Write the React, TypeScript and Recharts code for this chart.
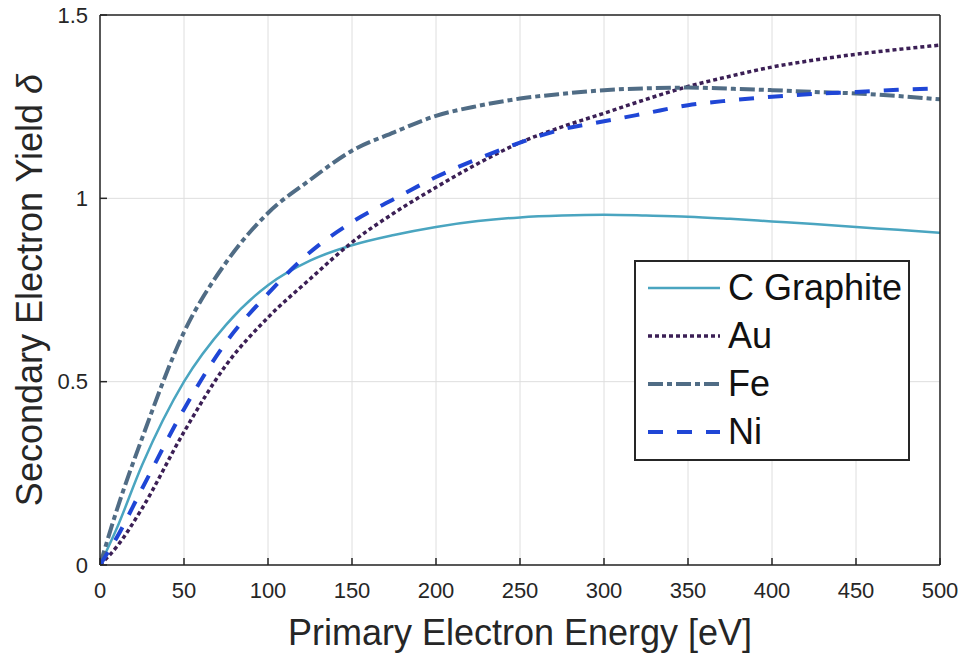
import { CartesianGrid, Label, Legend, Line, LineChart, XAxis, YAxis } from "recharts";

const energy = [0, 10, 25, 50, 75, 100, 125, 150, 175, 200, 225, 250, 275, 300, 325, 350, 375, 400, 425, 450, 475, 500];
const graphite = [0, 0.1, 0.272, 0.5, 0.655, 0.763, 0.83, 0.872, 0.9, 0.922, 0.938, 0.948, 0.953, 0.955, 0.953, 0.95, 0.944, 0.937, 0.93, 0.922, 0.914, 0.906];
const au = [0, 0.05, 0.154, 0.363, 0.545, 0.675, 0.78, 0.88, 0.96, 1.03, 1.095, 1.152, 1.195, 1.232, 1.27, 1.305, 1.333, 1.358, 1.377, 1.393, 1.406, 1.418];
const fe = [0, 0.15, 0.345, 0.635, 0.825, 0.96, 1.05, 1.13, 1.18, 1.225, 1.252, 1.272, 1.285, 1.295, 1.3, 1.302, 1.299, 1.295, 1.29, 1.286, 1.279, 1.27];
const ni = [0, 0.075, 0.208, 0.425, 0.607, 0.74, 0.853, 0.935, 0.998, 1.058, 1.108, 1.152, 1.188, 1.21, 1.232, 1.254, 1.267, 1.277, 1.285, 1.29, 1.296, 1.3];

const xTicks = [0, 50, 100, 150, 200, 250, 300, 350, 400, 450, 500];
const yTicks = [0, 0.5, 1, 1.5];

const FONT = "'Liberation Sans', Arial, Helvetica, sans-serif";
const AXIS = "#262626";

const series = [
  { key: "graphite", name: "C Graphite", color: "#4aa5c0", width: 2.5, dash: undefined },
  { key: "au", name: "Au", color: "#3b1f55", width: 3.5, dash: "4 3" },
  { key: "fe", name: "Fe", color: "#506c85", width: 4, dash: "15 4 5 4" },
  { key: "ni", name: "Ni", color: "#1f46d6", width: 4, dash: "15 14" },
];

const data = energy.map((e, i) => ({
  e,
  graphite: graphite[i],
  au: au[i],
  fe: fe[i],
  ni: ni[i],
}));

const LegendBox = () => (
  <div
    style={{
      boxSizing: "border-box",
      width: 276,
      height: 201,
      border: `2px solid ${AXIS}`,
      background: "#fff",
      paddingTop: 2,
      paddingLeft: 12,
      fontFamily: FONT,
    }}
  >
    {series.map((s) => (
      <div key={s.key} style={{ display: "flex", alignItems: "center", height: 48 }}>
        <svg width={72} height={10} style={{ display: "block" }}>
          <line x1={0} y1={5} x2={72} y2={5} stroke={s.color} strokeWidth={s.width} strokeDasharray={s.dash} />
        </svg>
        <span style={{ marginLeft: 8, fontSize: 36, color: "#111", lineHeight: "48px" }}>{s.name}</span>
      </div>
    ))}
  </div>
);

const YLabel = (props: any) => {
  const { x, y, height } = props.viewBox;
  const cx = x + 29;
  const cy = y + height / 2;
  return (
    <text
      x={cx}
      y={cy}
      transform={`rotate(-90 ${cx} ${cy})`}
      textAnchor="middle"
      dominantBaseline="central"
      fontSize={36}
      fill={AXIS}
      fontFamily={FONT}
    >
      Secondary Electron Yield <tspan fontStyle="italic">δ</tspan>
    </text>
  );
};

export default function App() {
  return (
    <div style={{ position: "absolute", left: 0, top: 0, background: "#fff" }}>
      <LineChart width={964} height={656} data={data} margin={{ top: 15, right: 24, bottom: 0, left: 0 }}>
        <CartesianGrid stroke="#dedede" strokeWidth={1} />
        <XAxis
          dataKey="e"
          type="number"
          domain={[0, 500]}
          ticks={xTicks}
          allowDataOverflow
          height={91}
          tickSize={-7}
          tickMargin={24}
          tickLine={{ stroke: AXIS, strokeWidth: 1.5 }}
          axisLine={{ stroke: AXIS, strokeWidth: 1.5 }}
          tick={{ fontSize: 22, fill: AXIS, fontFamily: FONT }}
        >
          <Label
            value="Primary Electron Energy [eV]"
            position="insideBottom"
            offset={11}
            style={{ fontSize: 36, fill: AXIS, fontFamily: FONT }}
          />
        </XAxis>
        <XAxis
          xAxisId="top"
          orientation="top"
          mirror
          type="number"
          domain={[0, 500]}
          ticks={xTicks}
          allowDataOverflow
          tick={false}
          tickSize={7}
          tickLine={{ stroke: AXIS, strokeWidth: 1.5 }}
          axisLine={{ stroke: AXIS, strokeWidth: 1.5 }}
        />
        <YAxis
          type="number"
          domain={[0, 1.5]}
          ticks={yTicks}
          allowDataOverflow
          width={100}
          tickSize={-7}
          tickMargin={19}
          tickLine={{ stroke: AXIS, strokeWidth: 1.5 }}
          axisLine={{ stroke: AXIS, strokeWidth: 1.5 }}
          tick={{ fontSize: 22, fill: AXIS, fontFamily: FONT }}
          label={<YLabel />}
        />
        <YAxis
          yAxisId="right"
          orientation="right"
          mirror
          type="number"
          domain={[0, 1.5]}
          ticks={yTicks}
          allowDataOverflow
          tick={false}
          tickSize={7}
          tickLine={{ stroke: AXIS, strokeWidth: 1.5 }}
          axisLine={{ stroke: AXIS, strokeWidth: 1.5 }}
        />
        {series.map((s) => (
          <Line
            key={s.key}
            dataKey={s.key}
            name={s.name}
            type="monotone"
            stroke={s.color}
            strokeWidth={s.width}
            strokeDasharray={s.dash}
            dot={false}
            activeDot={false}
            isAnimationActive={false}
          />
        ))}
        <Legend
          layout="horizontal"
          verticalAlign="middle"
          align="center"
          content={<LegendBox />}
          wrapperStyle={{ left: 634, top: 260, width: "auto" }}
        />
      </LineChart>
    </div>
  );
}
